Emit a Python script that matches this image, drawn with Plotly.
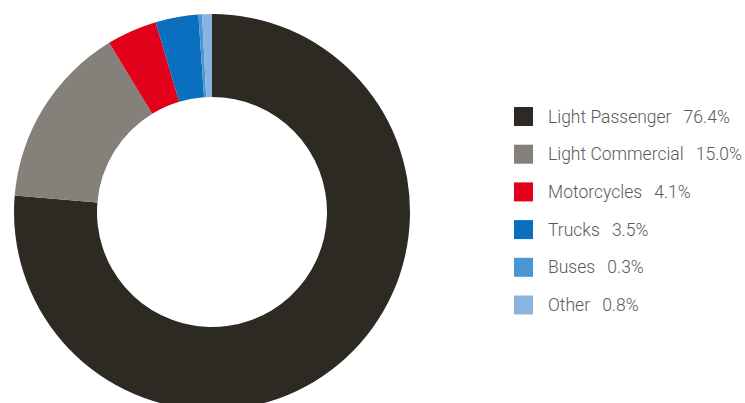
import plotly.graph_objects as go

labels = ["Light Passenger", "Light Commercial", "Motorcycles", "Trucks", "Buses", "Other"]
values = [76.4, 15.0, 4.1, 3.5, 0.3, 0.8]
colors = ["#2d2a24", "#858079", "#e2001a", "#0a6fbe", "#4a95d3", "#8ab4e0"]

W, H = 745, 411
cx, cy, R = 212, 212, 198

fig = go.Figure(go.Pie(
    labels=labels, values=values, sort=False, direction="clockwise", rotation=0,
    hole=115 / 198, marker=dict(colors=colors, line=dict(width=0)),
    textinfo="none", hoverinfo="label+percent", showlegend=False,
    domain=dict(x=[(cx - R) / W, (cx + R) / W], y=[(H - cy - R) / H, (H - cy + R) / H]),
))

FONT = "Roboto, Noto Sans, sans-serif"
shapes, annotations = [], []
y0, dy = 116.5, 37.7
for i, (lab, val, col) in enumerate(zip(labels, values, colors)):
    yc = y0 + i * dy
    shapes.append(dict(type="rect", xref="paper", yref="paper",
                       x0=514 / W, x1=533 / W, y0=(H - yc - 9.5) / H, y1=(H - yc + 9.5) / H,
                       fillcolor=col, line=dict(width=0)))
    annotations.append(dict(xref="paper", yref="paper", x=546 / W, y=(H - yc) / H,
                            xanchor="left", yanchor="middle", showarrow=False,
                            text=f"{lab}\u00a0\u00a0\u2009{val:.1f}%",
                            font=dict(family=FONT, size=17.5, weight=300, color="#5a5a5a")))

fig.update_layout(width=W, height=H, margin=dict(l=0, r=0, t=0, b=0),
                  paper_bgcolor="white", plot_bgcolor="white",
                  shapes=shapes, annotations=annotations)

fig.write_html("out.html", config={"displayModeBar": False},
               post_script="document.documentElement.style.overflow='hidden';document.body.style.overflow='hidden';document.body.style.margin='0';")
